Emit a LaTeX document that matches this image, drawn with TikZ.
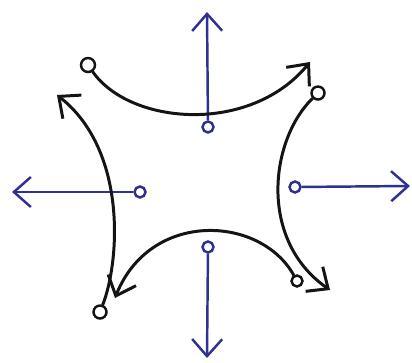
\documentclass[tikz,border=0pt]{standalone}
\usepackage{tikz}
\usetikzlibrary{arrows.meta}
\definecolor{Ink}{HTML}{2E3192}
\definecolor{Pen}{HTML}{141414}

\begin{document}
\begin{tikzpicture}[x=0.02cm,y=-0.02cm,>={Straight Barb[length=3.4mm,width=6mm]},
 ring/.style={circle,draw,line width=1.4pt,inner sep=0pt,minimum size=2.2mm},
 edge/.style={draw=Pen,line width=1.7pt,line cap=round}]
\useasboundingbox (0,0) rectangle (412,362);
% blue arrows out of the middle of each side
\foreach \n/\x/\y/\u/\v in {t/208/127/207/12,l/140/192/12/192,r/295/187/410/186,b/208/247/207/358}{
 \node[ring,draw=Ink] (m\n) at (\x,\y) {};
 \coordinate (h\n) at (\u,\v);
 \draw[->,Ink,line width=1.4pt] (m\n) -- (h\n);
}
% corner rings and the four black sides
\node[ring,draw=Pen,minimum size=2.8mm] (ctl) at (88,65) {};
\node[ring,draw=Pen,minimum size=2.6mm] (ctr) at (318,93) {};
\node[ring,draw=Pen] (cbr) at (297,281) {};
\node[ring,draw=Pen,minimum size=2.6mm] (cbl) at (100,312) {};
\coordinate (etr) at (310,62);
\coordinate (ebr) at (330,290);
\coordinate (ebl) at (115,298);
\coordinate (etl) at (57,95);
\draw[edge,->] (ctl) .. controls (130,125) and (250,135) .. (etr);
\draw[edge,->] (ctr) .. controls (270,140) and (258,240) .. (ebr);
\draw[edge,->] (cbr) .. controls (260,215) and (150,210) .. (ebl);
\draw[edge,->] (cbl) .. controls (120,260) and (127,150) .. (etl);
\end{tikzpicture}
\end{document}
